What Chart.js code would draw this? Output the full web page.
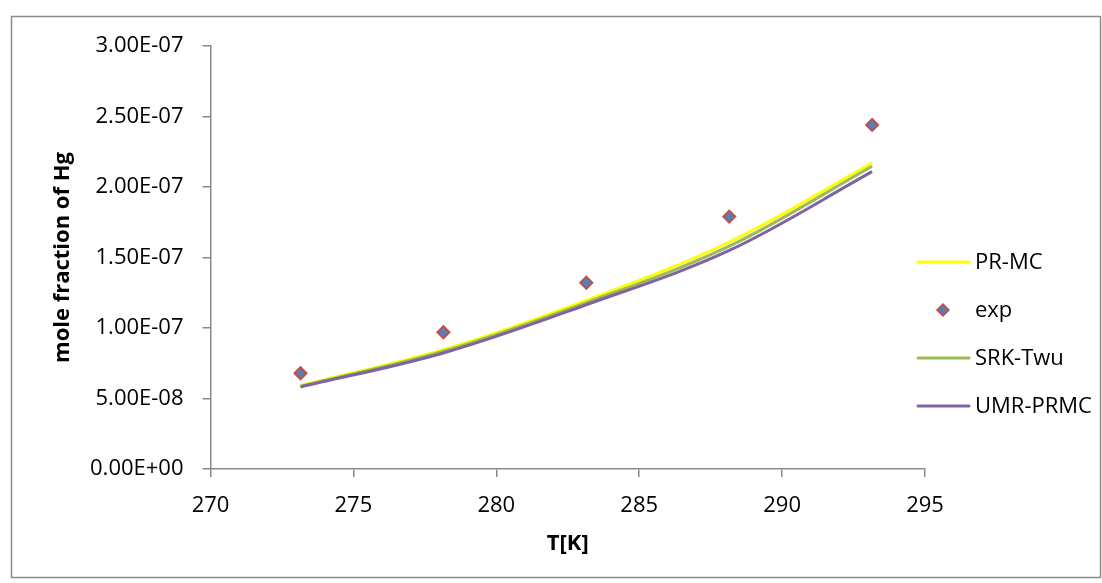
<!DOCTYPE html>
<html lang="en">
  <head>
    <meta charset="UTF-8" />
    <title>Hg solubility</title>
    <style>
      body { margin: 0; background: #fff; }
      #wrap { width: 1102px; height: 583px; }
    </style>
  </head>
  <body>
    <div id="wrap">
      <canvas id="chart" width="1102" height="583"></canvas>
    </div>

    <script src="https://cdn.jsdelivr.net/npm/chart.js@4.4.1/dist/chart.umd.min.js"></script>
    <script>
      // temperatures [K]
      var temps = [273.15, 278.15, 283.15, 288.15, 293.15];

      // mole fraction of Hg, experiment and models
      var expData = [6.79e-8, 9.70e-8, 1.321e-7, 1.79e-7, 2.44e-7];
      var prmc = [5.92e-8, 8.46e-8, 1.196e-7, 1.61e-7, 2.17e-7];
      var srkTwu = [5.87e-8, 8.35e-8, 1.180e-7, 1.58e-7, 2.147e-7];
      var umrPrmc = [5.82e-8, 8.23e-8, 1.165e-7, 1.55e-7, 2.109e-7];

      var xTicks = [270, 275, 280, 285, 290, 295];
      var yTicks = [0, 5e-8, 1e-7, 1.5e-7, 2e-7, 2.5e-7, 3e-7];

      var FONT = 'Open Sans';
      var AXIS = '#898989';

      function pts(ys) {
        return temps.map(function (t, i) { return { x: t, y: ys[i] }; });
      }

      // 3.00E-07 style labels
      function sci(v) {
        var s = v.toExponential(2).toUpperCase();
        var m = s.split('E');
        var e = parseInt(m[1], 10);
        var sign = e < 0 ? '-' : '+';
        e = Math.abs(e);
        return m[0] + 'E' + sign + (e < 10 ? '0' + e : e);
      }

      // frame round the whole chart + legend on the right
      var extras = {
        id: 'extras',
        beforeDraw: function (chart) {
          var c = chart.ctx;
          c.save();
          c.fillStyle = '#fff';
          c.fillRect(0, 0, chart.width, chart.height);
          c.strokeStyle = '#8c8c8c';
          c.lineWidth = 1.5;
          c.strokeRect(11.5, 16.5, 1089, 561);
          c.restore();
        },
        afterDraw: function (chart) {
          var c = chart.ctx;
          var rowY = [262, 310, 358, 406];
          c.save();
          c.font = '22px "' + FONT + '"';
          c.textBaseline = 'middle';
          c.fillStyle = '#000';
          chart.data.datasets.forEach(function (ds, i) {
            var y = rowY[i];
            if (ds.showLine === false) {
              c.save();
              c.translate(943, y);
              c.rotate(Math.PI / 4);
              c.fillStyle = ds.backgroundColor;
              c.strokeStyle = ds.borderColor;
              c.lineWidth = ds.borderWidth;
              c.fillRect(-4, -4, 8, 8);
              c.strokeRect(-4, -4, 8, 8);
              c.restore();
            } else {
              c.strokeStyle = ds.borderColor;
              c.lineWidth = ds.borderWidth;
              c.lineCap = 'round';
              c.beginPath();
              c.moveTo(918, y);
              c.lineTo(969, y);
              c.stroke();
            }
            c.fillText(ds.label, 975, y + 1);
          });
          c.restore();
        }
      };

      var lineStyle = { showLine: true, borderWidth: 3, pointRadius: 0, tension: 0.35 };

      var ctx = document.getElementById('chart');
      var chart = new Chart(ctx, {
        type: 'scatter',
        data: {
          datasets: [
            Object.assign({
              label: 'PR-MC',
              data: pts(prmc),
              borderColor: '#ffff00',
              backgroundColor: '#ffff00',
              order: 4
            }, lineStyle),
            {
              label: 'exp',
              data: pts(expData),
              showLine: false,
              pointStyle: 'rectRot',
              pointRadius: 6,
              borderWidth: 2,
              backgroundColor: '#4f81bd',
              borderColor: '#c0504d',
              order: 0
            },
            Object.assign({
              label: 'SRK-Twu',
              data: pts(srkTwu),
              borderColor: '#9bbb59',
              backgroundColor: '#9bbb59',
              order: 2
            }, lineStyle),
            Object.assign({
              label: 'UMR-PRMC',
              data: pts(umrPrmc),
              borderColor: '#8064a2',
              backgroundColor: '#8064a2',
              order: 1
            }, lineStyle)
          ]
        },
        options: {
          responsive: false,
          animation: false,
          layout: { padding: { left: 12, top: 46, right: 177, bottom: 0 } },
          plugins: {
            legend: { display: false },
            tooltip: { enabled: false }
          },
          scales: {
            x: {
              type: 'linear',
              min: 270,
              max: 295,
              afterFit: function (s) { s.height = 114; },
              afterBuildTicks: function (s) {
                s.ticks = xTicks.map(function (v) { return { value: v }; });
              },
              border: { color: AXIS, width: 1.5 },
              grid: { drawOnChartArea: false, drawTicks: true, tickLength: 8, color: AXIS, lineWidth: 1.5 },
              ticks: { color: '#000', padding: 16, font: { family: FONT, size: 22 } },
              title: {
                display: true,
                text: 'T[K]',
                color: '#000',
                padding: { top: 0, bottom: 26 },
                font: { family: FONT, size: 22, weight: 'bold' }
              }
            },
            y: {
              type: 'linear',
              min: 0,
              max: 3e-7,
              afterFit: function (s) { s.width = 198.5; },
              afterBuildTicks: function (s) {
                s.ticks = yTicks.map(function (v) { return { value: v }; });
              },
              border: { color: AXIS, width: 1.5 },
              grid: { drawOnChartArea: false, drawTicks: true, tickLength: 8, color: AXIS, lineWidth: 1.5 },
              ticks: {
                color: '#000',
                padding: 19,
                font: { family: FONT, size: 22 },
                callback: function (v) { return sci(v); }
              },
              title: {
                display: true,
                text: 'mole fraction of Hg',
                color: '#000',
                padding: { top: 38, bottom: 0 },
                font: { family: FONT, size: 22, weight: 'bold' }
              }
            }
          }
        },
        plugins: [extras]
      });
    </script>
  </body>
</html>
